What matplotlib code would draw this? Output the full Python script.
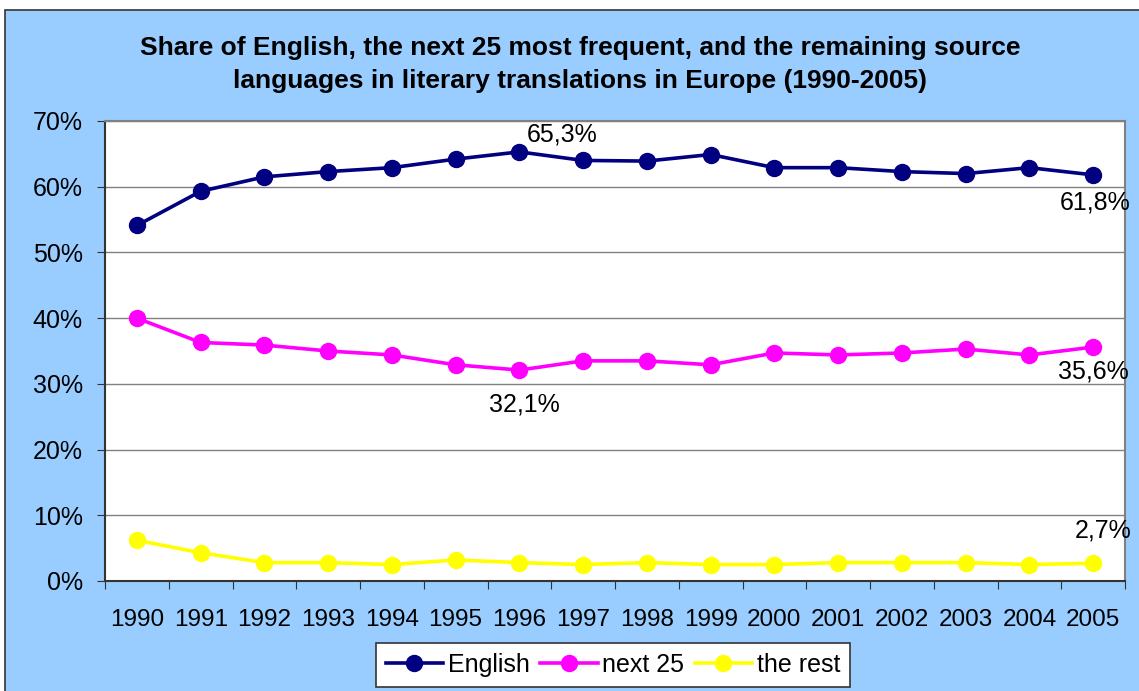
import matplotlib
matplotlib.use("Agg")
import matplotlib.pyplot as plt
from matplotlib.patches import Rectangle
from matplotlib.ticker import FixedLocator, FuncFormatter

# data (in %)
years = [str(y) for y in range(1990, 2006)]
english = [54.1, 59.3, 61.5, 62.3, 62.9, 64.2, 65.3, 64.0, 63.9, 64.9, 62.9, 62.9, 62.3, 62.0, 62.9, 61.8]
next25 = [40.0, 36.3, 35.9, 35.0, 34.4, 32.9, 32.1, 33.5, 33.5, 32.9, 34.7, 34.4, 34.7, 35.3, 34.4, 35.6]
rest = [6.2, 4.3, 2.8, 2.8, 2.5, 3.2, 2.8, 2.5, 2.8, 2.5, 2.5, 2.8, 2.8, 2.8, 2.5, 2.7]

plt.rcParams['font.family'] = ['Liberation Sans', 'DejaVu Sans']

fig = plt.figure(figsize=(11.39, 6.91), dpi=100)
fig.patch.set_facecolor('white')

# blue chart area with dark border
bg = Rectangle((5 / 1139, -0.05), 1.1, (681 / 691) + 0.05, transform=fig.transFigure,
               facecolor='#99CCFF', edgecolor='#333333', linewidth=1.2, zorder=-10)
fig.patches.append(bg)

ax = fig.add_axes([105 / 1139, 110 / 691, 1020 / 1139, 460 / 691])
ax.set_facecolor('white')

x = list(range(len(years)))
ax.plot(x, english, color='#000080', lw=2.6, marker='o', ms=11.5, label='English', clip_on=False, zorder=3)
ax.plot(x, next25, color='#FF00FF', lw=2.6, marker='o', ms=11.5, label='next 25', clip_on=False, zorder=3)
ax.plot(x, rest, color='#FFFF00', lw=2.6, marker='o', ms=11.5, label='the rest', clip_on=False, zorder=3)

ax.set_xlim(-0.5, len(years) - 0.5)
ax.set_ylim(0, 70)
ax.yaxis.set_major_locator(FixedLocator(range(0, 71, 10)))
ax.yaxis.set_major_formatter(FuncFormatter(lambda v, p: f"{int(v)}%"))
ax.grid(axis='y', color='#808080', lw=1)
ax.set_axisbelow(True)

# category ticks between years, labels at centres
ax.set_xticks([i - 0.5 for i in range(len(years) + 1)])
ax.set_xticklabels([])
ax.set_xticks(x, minor=True)
ax.set_xticklabels(years, minor=True, fontsize=17.5)
ax.tick_params(axis='x', which='major', direction='out', length=6, color='#333333')
ax.tick_params(axis='x', which='minor', length=0, pad=20)
ax.tick_params(axis='y', direction='out', length=6, color='#333333', labelsize=18, pad=10)

for s in ax.spines.values():
    s.set_color('#808080')
    s.set_linewidth(1.5)
ax.spines['left'].set_color('#333333')
ax.spines['bottom'].set_color('#333333')

# data labels
labels = [
    (6, english[6], '65,3%', (43, 17)),
    (6, next25[6], '32,1%', (5, -34)),
    (15, english[15], '61,8%', (2, -28)),
    (15, next25[15], '35,6%', (0, -24)),
    (15, rest[15], '2,7%', (10, 33)),
]
for xi, yi, txt, off in labels:
    ax.annotate(txt, (xi, yi), xytext=off, textcoords='offset pixels',
                ha='center', va='center', fontsize=18, annotation_clip=False)

fig.text(580 / 1139, 1 - 48 / 691, 'Share of English, the next 25 most frequent, and the remaining source',
         ha='center', va='center', fontsize=19, fontweight='bold')
fig.text(580 / 1139, 1 - 81 / 691, 'languages in literary translations in Europe (1990-2005)',
         ha='center', va='center', fontsize=19, fontweight='bold')

leg = fig.legend(loc='center', bbox_to_anchor=(613 / 1139, 1 - 665 / 691), ncol=3, fontsize=18,
                 frameon=True, fancybox=False, framealpha=1, edgecolor='#333333',
                 handlelength=2.3, columnspacing=0.4, handletextpad=0.2, borderpad=0.4)
leg.get_frame().set_linewidth(1.2)

fig.savefig('out.png', dpi=100)
